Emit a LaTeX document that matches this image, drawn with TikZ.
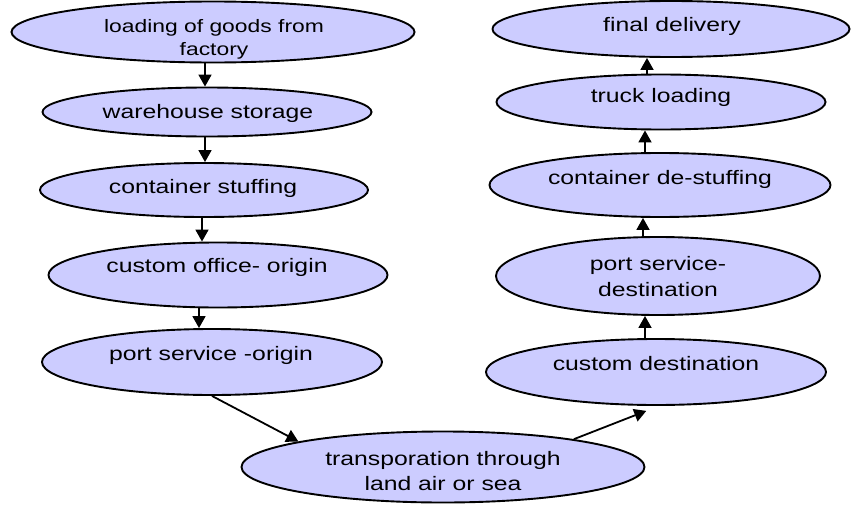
\documentclass[tikz,border=0pt]{standalone}
\usepackage{fontspec}
\setmainfont{Liberation Sans}[FakeStretch=1.27]
\usetikzlibrary{shapes.geometric,arrows.meta}
\definecolor{lav}{RGB}{204,204,255}
\tikzset{
  blob/.style={ellipse, draw=black, line width=1.9pt, fill=lav, inner sep=0pt},
  lbl/.style={anchor=base, align=center, inner sep=0pt, font=\fontsize{19.5pt}{25pt}\selectfont},
  arr/.style={line width=1.8pt, -{Triangle[length=12pt,width=13pt]}},
}
\begin{document}
\begin{tikzpicture}[x=1pt,y=-1pt]
\useasboundingbox (0,0) rectangle (851,506);

% outbound chain (left column)
\node[blob, minimum width=403pt, minimum height=61pt] (n1) at (213,32) {};
\node[blob, minimum width=329pt, minimum height=49pt] (n2) at (207,112) {};
\node[blob, minimum width=328pt, minimum height=54pt] (n3) at (204,190) {};
\node[blob, minimum width=339pt, minimum height=65pt] (n4) at (218,275) {};
\node[blob, minimum width=340pt, minimum height=66pt] (n5) at (212,362) {};

% transport (bottom)
\node[blob, minimum width=403pt, minimum height=71pt] (tr) at (443,467) {};

% inbound chain (right column)
\node[blob, minimum width=357pt, minimum height=56pt] (fd) at (671,29) {};
\node[blob, minimum width=329pt, minimum height=55pt] (tl) at (661,102) {};
\node[blob, minimum width=341pt, minimum height=64pt] (ds) at (660,185) {};
\node[blob, minimum width=324pt, minimum height=78pt] (pd) at (658,276) {};
\node[blob, minimum width=340pt, minimum height=66pt] (cd) at (656,372) {};

% labels (two-line labels sit on the baseline of their last line)
\node[lbl, font=\fontsize{18pt}{23pt}\selectfont] (t1) at (214,55) {loading of goods from\\factory};
\node[lbl] (t2) at (208,118) {warehouse storage};
\node[lbl] (t3) at (203,193) {container stuffing};
\node[lbl] (t4) at (217,272) {custom office- origin};
\node[lbl] (t5) at (211,360) {port service -origin};
\node[lbl] (t6) at (443,490) {transporation through\\land air or sea};
\node[lbl] (t7) at (672,31) {final delivery};
\node[lbl] (t8) at (661,102) {truck loading};
\node[lbl] (t9) at (660,184) {container de-stuffing};
\node[lbl, font=\fontsize{19.5pt}{26pt}\selectfont] (t10) at (658,296) {port service-\\destination};
\node[lbl] (t11) at (656,370) {custom destination};

% connectors
\draw[arr] ([xshift=-2pt]n2.north |- n1.south) -- ([xshift=-2pt]n2.north);
\draw[arr] ([xshift=1pt]n3.north |- n2.south) -- ([xshift=1pt]n3.north);
\draw[arr] ([xshift=-2pt]n3.south) -- ([xshift=-2pt]n3.south |- n4.north);
\draw[arr] ([xshift=-13pt]n5.north |- n4.south) -- ([xshift=-13pt]n5.north);
\draw[arr] (n5.south) -- (tr.170);
\draw[arr] (tr.12) -- ([yshift=-5pt]cd.254);
\draw[arr] ([xshift=-11pt]cd.north) -- ([xshift=-11pt]cd.north |- pd.south);
\draw[arr] ([xshift=-15pt]pd.north) -- ([xshift=-15pt]pd.north |- ds.south);
\draw[arr] ([xshift=-15pt]ds.north) -- ([xshift=-15pt]ds.north |- tl.south);
\draw[arr] ([xshift=-14pt]tl.north) -- ([xshift=-14pt]tl.north |- fd.south);
\end{tikzpicture}
\end{document}
